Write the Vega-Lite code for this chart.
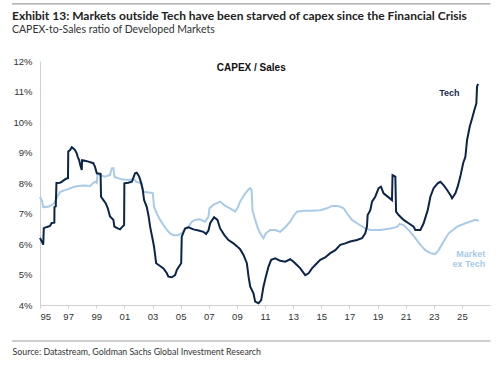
{
  "$schema": "https://vega.github.io/schema/vega-lite/v6.json",
  "width": 450,
  "height": 244,
  "autosize": {"type": "none"},
  "padding": {"left": 40, "top": 61, "right": 10, "bottom": 60},
  "background": "white",
  "config": {
    "view": {"stroke": null},
    "font": "Liberation Sans",
    "axisX": {
      "labelOverlap": false,
      "grid": false,
      "domainColor": "#d0d0d0",
      "tickColor": "#d0d0d0",
      "tickSize": 3,
      "labelPadding": 3,
      "labelFont": "Liberation Sans",
      "labelFontSize": 9.5,
      "labelColor": "#333333"
    },
    "axisY": {
      "labelOverlap": false,
      "grid": false,
      "ticks": false,
      "domainColor": "#d0d0d0",
      "labelPadding": 8,
      "labelFont": "Liberation Sans",
      "labelFontSize": 9.5,
      "labelColor": "#333333"
    }
  },
  "title": {
    "text": "Exhibit 13: Markets outside Tech have been starved of capex since the Financial Crisis",
    "subtitle": "CAPEX-to-Sales ratio of Developed Markets",
    "anchor": "start",
    "frame": "group",
    "dx": -28,
    "offset": -33,
    "font": "Lato",
    "fontSize": 12,
    "fontWeight": "bold",
    "color": "#222222",
    "subtitleFont": "Lato",
    "subtitleFontSize": 10.5,
    "subtitleColor": "#333333",
    "subtitlePadding": 2
  },
  "datasets": {
    "tech": [
      {"date": 1995.00, "value": 6.20}, {"date": 1995.18, "value": 6.03}, {"date": 1995.23, "value": 5.98}, {"date": 1995.27, "value": 6.52},
      {"date": 1995.50, "value": 6.56}, {"date": 1995.71, "value": 6.59}, {"date": 1995.83, "value": 6.69}, {"date": 1996.02, "value": 6.70},
      {"date": 1996.03, "value": 7.21}, {"date": 1996.12, "value": 7.23}, {"date": 1996.17, "value": 8.00}, {"date": 1996.42, "value": 8.01},
      {"date": 1996.54, "value": 8.04}, {"date": 1996.73, "value": 8.10}, {"date": 1996.89, "value": 8.15}, {"date": 1996.99, "value": 8.16},
      {"date": 1997.01, "value": 9.03}, {"date": 1997.14, "value": 9.08}, {"date": 1997.26, "value": 9.17}, {"date": 1997.38, "value": 9.13},
      {"date": 1997.49, "value": 9.08}, {"date": 1997.61, "value": 8.97}, {"date": 1997.68, "value": 8.86}, {"date": 1997.78, "value": 8.75},
      {"date": 1997.88, "value": 8.56}, {"date": 1997.97, "value": 8.43}, {"date": 1997.99, "value": 8.75}, {"date": 1998.20, "value": 8.73},
      {"date": 1998.44, "value": 8.70}, {"date": 1998.79, "value": 8.65}, {"date": 1998.91, "value": 8.53}, {"date": 1999.04, "value": 8.32},
      {"date": 1999.31, "value": 8.30}, {"date": 1999.34, "value": 7.55}, {"date": 1999.51, "value": 7.44}, {"date": 1999.68, "value": 7.33},
      {"date": 1999.82, "value": 7.17}, {"date": 1999.98, "value": 6.90}, {"date": 2000.22, "value": 6.79}, {"date": 2000.29, "value": 6.57},
      {"date": 2000.53, "value": 6.51}, {"date": 2000.69, "value": 6.48}, {"date": 2000.86, "value": 6.57}, {"date": 2000.98, "value": 6.62},
      {"date": 2001.00, "value": 7.99}, {"date": 2001.28, "value": 8.01}, {"date": 2001.53, "value": 8.04}, {"date": 2001.69, "value": 8.23},
      {"date": 2001.76, "value": 8.32}, {"date": 2001.88, "value": 8.34}, {"date": 2002.05, "value": 8.21}, {"date": 2002.15, "value": 8.07},
      {"date": 2002.31, "value": 7.77}, {"date": 2002.40, "value": 7.44}, {"date": 2002.59, "value": 7.22}, {"date": 2002.72, "value": 6.92},
      {"date": 2002.83, "value": 6.57}, {"date": 2003.02, "value": 6.13}, {"date": 2003.11, "value": 5.91}, {"date": 2003.26, "value": 5.37},
      {"date": 2003.54, "value": 5.28}, {"date": 2003.78, "value": 5.20}, {"date": 2004.02, "value": 5.04}, {"date": 2004.13, "value": 4.93},
      {"date": 2004.37, "value": 4.91}, {"date": 2004.61, "value": 4.98}, {"date": 2004.73, "value": 5.15}, {"date": 2004.91, "value": 5.28},
      {"date": 2005.04, "value": 5.37}, {"date": 2005.08, "value": 6.24}, {"date": 2005.32, "value": 6.51}, {"date": 2005.56, "value": 6.55},
      {"date": 2005.91, "value": 6.48}, {"date": 2006.27, "value": 6.44}, {"date": 2006.62, "value": 6.40}, {"date": 2006.81, "value": 6.33},
      {"date": 2006.98, "value": 6.44}, {"date": 2007.10, "value": 6.68}, {"date": 2007.38, "value": 6.88}, {"date": 2007.62, "value": 6.79},
      {"date": 2007.81, "value": 6.51}, {"date": 2008.10, "value": 6.30}, {"date": 2008.40, "value": 6.13}, {"date": 2008.76, "value": 6.02},
      {"date": 2009.00, "value": 5.93}, {"date": 2009.23, "value": 5.83}, {"date": 2009.47, "value": 5.64}, {"date": 2009.71, "value": 5.37},
      {"date": 2009.83, "value": 4.93}, {"date": 2009.95, "value": 4.60}, {"date": 2010.18, "value": 4.38}, {"date": 2010.30, "value": 4.11},
      {"date": 2010.54, "value": 4.06}, {"date": 2010.73, "value": 4.16}, {"date": 2010.89, "value": 4.60}, {"date": 2011.06, "value": 4.93},
      {"date": 2011.25, "value": 5.26}, {"date": 2011.44, "value": 5.48}, {"date": 2011.73, "value": 5.53}, {"date": 2012.08, "value": 5.45},
      {"date": 2012.44, "value": 5.42}, {"date": 2012.79, "value": 5.50}, {"date": 2013.03, "value": 5.42}, {"date": 2013.27, "value": 5.31},
      {"date": 2013.51, "value": 5.20}, {"date": 2013.86, "value": 4.98}, {"date": 2014.10, "value": 5.04}, {"date": 2014.34, "value": 5.20},
      {"date": 2014.57, "value": 5.31}, {"date": 2014.93, "value": 5.48}, {"date": 2015.28, "value": 5.56}, {"date": 2015.64, "value": 5.70},
      {"date": 2016.00, "value": 5.80}, {"date": 2016.35, "value": 5.97}, {"date": 2016.71, "value": 6.02}, {"date": 2017.06, "value": 6.08},
      {"date": 2017.54, "value": 6.13}, {"date": 2017.90, "value": 6.19}, {"date": 2018.13, "value": 6.35}, {"date": 2018.25, "value": 6.57},
      {"date": 2018.30, "value": 6.95}, {"date": 2018.49, "value": 7.11}, {"date": 2018.61, "value": 7.39}, {"date": 2018.84, "value": 7.55},
      {"date": 2019.08, "value": 7.83}, {"date": 2019.25, "value": 7.88}, {"date": 2019.43, "value": 7.66}, {"date": 2019.68, "value": 7.57},
      {"date": 2020.03, "value": 7.44}, {"date": 2020.07, "value": 8.26}, {"date": 2020.27, "value": 8.21}, {"date": 2020.32, "value": 7.06},
      {"date": 2020.50, "value": 6.95}, {"date": 2020.86, "value": 6.79}, {"date": 2021.21, "value": 6.68}, {"date": 2021.57, "value": 6.57},
      {"date": 2021.69, "value": 6.46}, {"date": 2022.05, "value": 6.46}, {"date": 2022.28, "value": 6.68}, {"date": 2022.57, "value": 7.11},
      {"date": 2022.76, "value": 7.55}, {"date": 2022.99, "value": 7.83}, {"date": 2023.28, "value": 7.99}, {"date": 2023.47, "value": 8.04},
      {"date": 2023.70, "value": 7.93}, {"date": 2023.95, "value": 7.77}, {"date": 2024.18, "value": 7.61}, {"date": 2024.30, "value": 7.50},
      {"date": 2024.54, "value": 7.66}, {"date": 2024.70, "value": 7.88}, {"date": 2024.89, "value": 8.21}, {"date": 2025.09, "value": 8.65},
      {"date": 2025.25, "value": 8.86}, {"date": 2025.37, "value": 9.41}, {"date": 2025.56, "value": 9.85}, {"date": 2025.73, "value": 10.12},
      {"date": 2025.89, "value": 10.39}, {"date": 2026.03, "value": 10.61}, {"date": 2026.08, "value": 11.16}, {"date": 2026.15, "value": 11.25}
    ],
    "mkt": [
      {"date": 1995.00, "value": 7.55}, {"date": 1995.16, "value": 7.39}, {"date": 1995.23, "value": 7.21}, {"date": 1995.59, "value": 7.22},
      {"date": 1995.95, "value": 7.31}, {"date": 1996.07, "value": 7.39}, {"date": 1996.30, "value": 7.61}, {"date": 1996.42, "value": 7.70},
      {"date": 1996.66, "value": 7.75}, {"date": 1997.01, "value": 7.80}, {"date": 1997.37, "value": 7.87}, {"date": 1997.73, "value": 7.90},
      {"date": 1998.08, "value": 7.92}, {"date": 1998.56, "value": 7.90}, {"date": 1998.79, "value": 8.00}, {"date": 1998.91, "value": 8.04},
      {"date": 1999.04, "value": 8.00}, {"date": 1999.09, "value": 8.30}, {"date": 1999.27, "value": 8.26}, {"date": 1999.63, "value": 8.21},
      {"date": 1999.98, "value": 8.26}, {"date": 2000.10, "value": 8.48}, {"date": 2000.22, "value": 8.49}, {"date": 2000.30, "value": 8.20},
      {"date": 2000.81, "value": 8.12}, {"date": 2001.28, "value": 8.10}, {"date": 2001.64, "value": 8.12}, {"date": 2001.88, "value": 8.03},
      {"date": 2002.24, "value": 7.99}, {"date": 2002.35, "value": 7.71}, {"date": 2003.02, "value": 7.67}, {"date": 2003.11, "value": 7.22},
      {"date": 2003.31, "value": 7.00}, {"date": 2003.54, "value": 6.79}, {"date": 2003.78, "value": 6.62}, {"date": 2004.02, "value": 6.46},
      {"date": 2004.25, "value": 6.35}, {"date": 2004.49, "value": 6.29}, {"date": 2004.84, "value": 6.29}, {"date": 2005.08, "value": 6.35},
      {"date": 2005.32, "value": 6.51}, {"date": 2005.56, "value": 6.57}, {"date": 2005.80, "value": 6.73}, {"date": 2006.03, "value": 6.79},
      {"date": 2006.34, "value": 6.81}, {"date": 2006.74, "value": 6.73}, {"date": 2006.98, "value": 6.90}, {"date": 2007.05, "value": 7.17},
      {"date": 2007.33, "value": 7.28}, {"date": 2007.81, "value": 7.39}, {"date": 2008.17, "value": 7.25}, {"date": 2008.52, "value": 7.17},
      {"date": 2008.88, "value": 7.06}, {"date": 2009.04, "value": 7.17}, {"date": 2009.23, "value": 7.39}, {"date": 2009.52, "value": 7.61},
      {"date": 2009.83, "value": 7.79}, {"date": 2009.93, "value": 7.83}, {"date": 2010.05, "value": 7.77}, {"date": 2010.11, "value": 7.11},
      {"date": 2010.30, "value": 6.79}, {"date": 2010.50, "value": 6.51}, {"date": 2010.66, "value": 6.35}, {"date": 2010.89, "value": 6.19},
      {"date": 2011.06, "value": 6.35}, {"date": 2011.37, "value": 6.46}, {"date": 2011.73, "value": 6.46}, {"date": 2012.08, "value": 6.40},
      {"date": 2012.44, "value": 6.55}, {"date": 2012.79, "value": 6.73}, {"date": 2013.03, "value": 6.92}, {"date": 2013.27, "value": 7.06},
      {"date": 2013.74, "value": 7.09}, {"date": 2014.34, "value": 7.09}, {"date": 2014.93, "value": 7.11}, {"date": 2015.41, "value": 7.17},
      {"date": 2015.76, "value": 7.25}, {"date": 2016.12, "value": 7.25}, {"date": 2016.35, "value": 7.22}, {"date": 2016.59, "value": 7.17},
      {"date": 2016.83, "value": 7.00}, {"date": 2017.19, "value": 6.79}, {"date": 2017.54, "value": 6.68}, {"date": 2018.13, "value": 6.51},
      {"date": 2018.49, "value": 6.46}, {"date": 2019.20, "value": 6.46}, {"date": 2019.91, "value": 6.51}, {"date": 2020.39, "value": 6.56},
      {"date": 2020.57, "value": 6.66}, {"date": 2020.86, "value": 6.62}, {"date": 2021.33, "value": 6.40}, {"date": 2021.69, "value": 6.19},
      {"date": 2022.05, "value": 5.97}, {"date": 2022.40, "value": 5.80}, {"date": 2022.76, "value": 5.70}, {"date": 2023.11, "value": 5.67},
      {"date": 2023.35, "value": 5.80}, {"date": 2023.70, "value": 6.08}, {"date": 2024.06, "value": 6.35}, {"date": 2024.66, "value": 6.57},
      {"date": 2025.25, "value": 6.68}, {"date": 2025.96, "value": 6.79}, {"date": 2026.20, "value": 6.76}
    ],
    "one": [{}]
  },
  "layer": [
    {
      "data": {"name": "mkt"},
      "mark": {"type": "line", "color": "#a9cbe8", "strokeWidth": 2},
      "encoding": {
        "x": {
          "field": "date", "type": "quantitative",
          "scale": {"domain": [1995, 2027], "nice": false, "zero": false},
          "axis": {
            "values": [1995, 1997, 1999, 2001, 2003, 2005, 2007, 2009, 2011, 2013, 2015, 2017, 2019, 2021, 2023, 2025],
            "tickCount": 40,
            "labelExpr": "substring(toString(datum.value), 2)",
            "labelOverlap": false,
            "title": "Source: Datastream, Goldman Sachs Global Investment Research",
            "titleAnchor": "start",
            "titleAlign": "left",
            "titleX": -28,
            "titleY": 46,
            "titleBaseline": "middle",
            "titleFont": "Lato",
            "titleFontSize": 8.8,
            "titleFontWeight": "normal",
            "titleColor": "#333333"
          }
        },
        "y": {
          "field": "value", "type": "quantitative",
          "scale": {"domain": [4, 12], "nice": false, "zero": false},
          "axis": {
            "values": [4, 5, 6, 7, 8, 9, 10, 11, 12],
            "tickCount": 40,
            "labelExpr": "datum.value + '%'",
            "labelOverlap": false,
            "title": null
          }
        }
      }
    },
    {
      "data": {"name": "tech"},
      "mark": {"type": "line", "color": "#0c2447", "strokeWidth": 2},
      "encoding": {
        "x": {"field": "date", "type": "quantitative"},
        "y": {"field": "value", "type": "quantitative"}
      }
    },
    {
      "data": {"name": "one"},
      "mark": {"type": "rule", "color": "#a0a0a0", "strokeWidth": 1.2},
      "encoding": {"x": {"datum": 1993.0}, "x2": {"datum": 2027.03}, "y": {"datum": 13.87}}
    },
    {
      "data": {"name": "one"},
      "mark": {"type": "rule", "color": "#a0a0a0", "strokeWidth": 1.2},
      "encoding": {"x": {"datum": 1993.0}, "x2": {"datum": 2027.03}, "y": {"datum": 2.82}}
    },
    {
      "data": {"name": "one"},
      "mark": {"type": "text", "text": "CAPEX / Sales", "font": "Liberation Sans", "fontSize": 10, "fontWeight": "bold", "color": "#111111", "align": "center", "baseline": "middle"},
      "encoding": {"x": {"datum": 2010.02}, "y": {"datum": 11.78}}
    },
    {
      "data": {"name": "one"},
      "mark": {"type": "text", "text": "Tech", "font": "Liberation Sans", "fontSize": 9, "fontWeight": "bold", "color": "#1a2c4e", "align": "center", "baseline": "middle"},
      "encoding": {"x": {"datum": 2024.11}, "y": {"datum": 10.96}}
    },
    {
      "data": {"name": "one"},
      "mark": {"type": "text", "text": ["Market", "ex Tech"], "font": "Liberation Sans", "fontSize": 9, "fontWeight": "bold", "color": "#a9cbe8", "align": "right", "baseline": "middle", "lineHeight": 10},
      "encoding": {"x": {"datum": 2026.67}, "y": {"datum": 5.67}}
    }
  ]
}
